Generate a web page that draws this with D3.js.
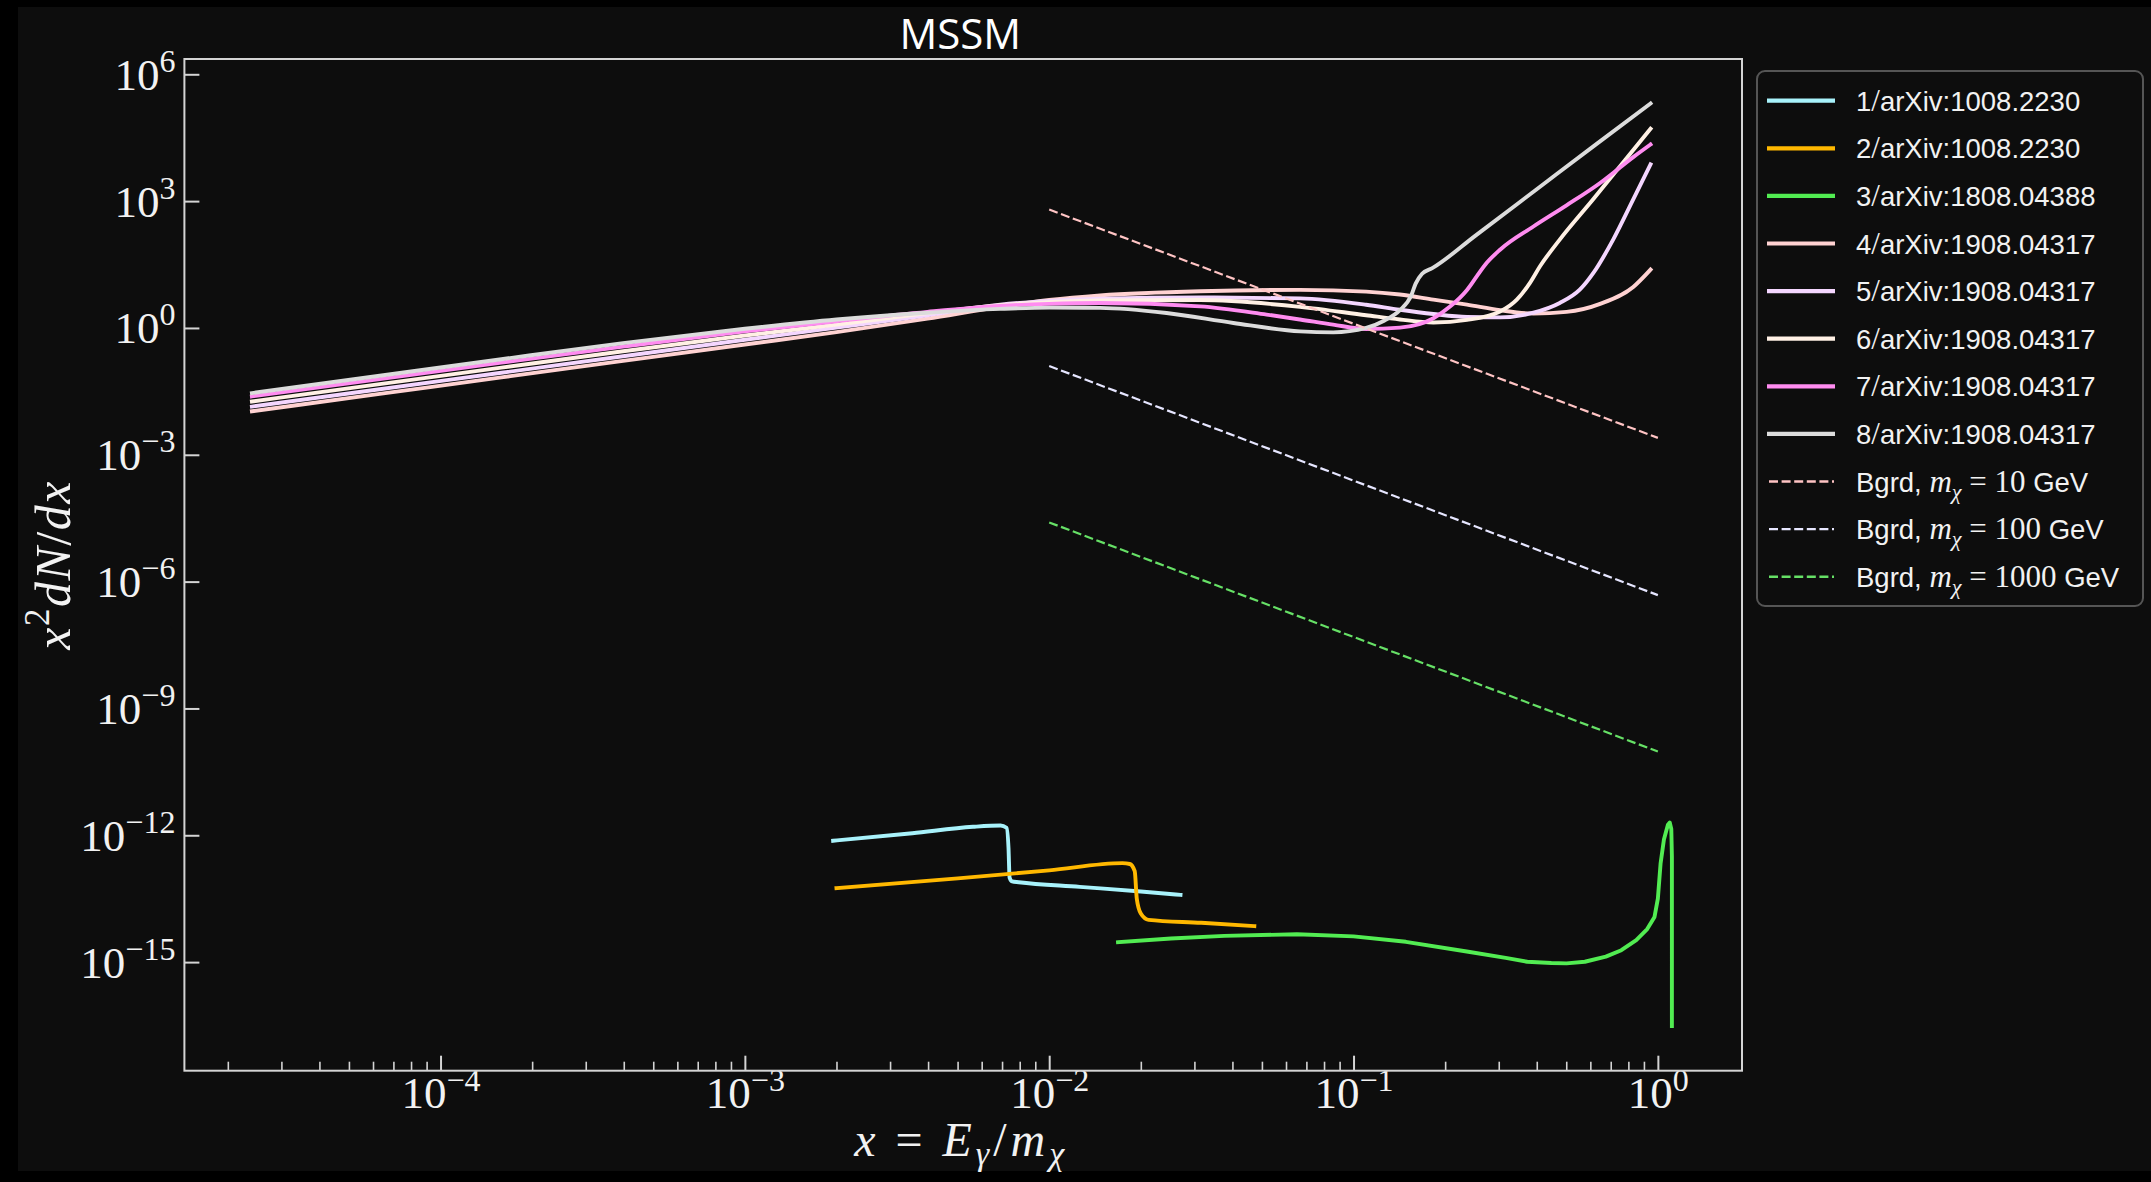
<!DOCTYPE html>
<html><head><meta charset="utf-8">
<script src="https://cdn.jsdelivr.net/npm/d3@7"></script>
<style>html,body{margin:0;padding:0;background:#000;} svg{display:block;}</style>
</head><body><svg id="c" width="2151" height="1182"></svg>
<script>
// ---------------- data ----------------
const xDomain = [1.44e-5, 1.89];
const yDomain = [2.7e-18, 2.3e6];
const yTickValues = [1e-15, 1e-12, 1e-9, 1e-6, 1e-3, 1, 1e3, 1e6];
const yTickExps = ["−15", "−12", "−9", "−6", "−3", "0", "3", "6"];
const xTickValues = [1e-4, 1e-3, 1e-2, 1e-1, 1];
const xTickExps = ["−4", "−3", "−2", "−1", "0"];
const titleText = "MSSM";
const seriesLabels = ["1/arXiv:1008.2230", "2/arXiv:1008.2230", "3/arXiv:1808.04388",
  "4/arXiv:1908.04317", "5/arXiv:1908.04317", "6/arXiv:1908.04317", "7/arXiv:1908.04317", "8/arXiv:1908.04317"];
const bgrdMasses = ["10", "100", "1000"];

const series1 = [[1.95e-3,7.41e-13],[3.55e-3,1.12e-12],[5.62e-3,1.585e-12],[6.92e-3,1.70e-12],[7.24e-3,1.51e-12],
  [7.35e-3,5.0e-13],[7.41e-3,1.0e-13],[7.55e-3,8.13e-14],[7.94e-3,7.76e-14],[0.0126,6.03e-14],[0.0200,4.68e-14],[0.0270,3.89e-14]];
const series2 = [[2.0e-3,5.62e-14],[5.01e-3,9.55e-14],[0.01,1.48e-13],[0.0174,2.19e-13],[0.0184,2.09e-13],[0.0191,1.41e-13],
  [0.0194,3.16e-14],[0.0200,1.41e-14],[0.0212,1.0e-14],[0.0316,8.51e-15],[0.0472,7.08e-15]];
const series3 = [[0.01683,2.95e-15],[0.02512,3.63e-15],[0.03758,4.17e-15],[0.06516,4.57e-15],[0.1,4.07e-15],[0.1486,3.02e-15],
  [0.2355,1.78e-15],[0.3162,1.26e-15],[0.3724,1.02e-15],[0.4467,9.55e-16],[0.5012,9.33e-16],[0.5754,1.02e-15],[0.6745,1.35e-15],
  [0.7586,1.91e-15],[0.8492,3.31e-15],[0.9226,6.03e-15],[0.975,1.17e-14],[1.0,3.16e-14],[1.021,2.19e-13],[1.047,7.94e-13],
  [1.079,1.78e-12],[1.094,2.0e-12],[1.107,1.41e-12],[1.112,3.16e-13],[1.112,1.0e-14],[1.112,3.09e-17]];
const series4 = [[2.40e-5,0.0107],[6.31e-5,0.0275],[1.585e-4,0.0676],[3.98e-4,0.166],[1e-3,0.407],[2.0e-3,0.794],[3.98e-3,1.66],
  [6.9e-3,3.16],[0.01,4.57],[0.0147,5.89],[0.0313,7.41],[0.0667,7.94],[0.110,7.24],[0.142,6.17],[0.183,4.68],[0.236,3.55],
  [0.303,2.63],[0.390,2.19],[0.501,2.40],[0.646,3.72],[0.830,9.33],[0.946,24.0]];
const series5 = [[2.40e-5,0.0138],[6.31e-5,0.0355],[1.585e-4,0.0871],[3.98e-4,0.214],[1e-3,0.525],[2.0e-3,1.02],[3.98e-3,2.0],
  [6.9e-3,3.55],[0.01,4.37],[0.0147,4.90],[0.0313,5.25],[0.0667,5.01],[0.110,3.55],[0.142,2.69],[0.183,2.14],[0.236,1.82],
  [0.303,1.78],[0.390,2.29],[0.476,3.89],[0.555,8.13],[0.614,20.0],[0.713,123],[0.830,1100],[0.946,7410]];
const series6 = [[2.40e-5,0.0182],[6.31e-5,0.0468],[1.585e-4,0.115],[3.98e-4,0.282],[1e-3,0.661],[2.0e-3,1.20],[3.98e-3,2.24],
  [6.9e-3,3.47],[0.01,4.07],[0.0147,4.47],[0.0313,4.57],[0.0667,3.16],[0.110,2.0],[0.142,1.585],[0.183,1.35],[0.236,1.55],
  [0.303,2.45],[0.344,4.68],[0.380,11.7],[0.410,28.8],[0.476,123],[0.614,1120],[0.776,8910],[0.946,51300]];
const series7 = [[2.40e-5,0.0240],[6.31e-5,0.0617],[1.585e-4,0.151],[3.98e-4,0.363],[1e-3,0.832],[2.0e-3,1.445],[3.98e-3,2.40],
  [6.9e-3,3.31],[0.01,3.72],[0.0147,3.89],[0.0313,3.24],[0.0518,2.07],[0.0667,1.585],[0.0857,1.20],[0.110,0.946],[0.142,1.02],
  [0.183,1.70],[0.207,3.16],[0.236,7.94],[0.254,16.6],[0.274,34.7],[0.303,70.8],[0.390,251],[0.501,794],[0.646,2690],
  [0.830,11000],[0.946,21900]];
const series8 = [[2.40e-5,0.0288],[6.31e-5,0.0741],[1.585e-4,0.182],[3.98e-4,0.437],[1e-3,0.955],[2.0e-3,1.585],[3.98e-3,2.29],
  [6.9e-3,2.82],[0.01,3.02],[0.0147,2.99],[0.0243,2.26],[0.0403,1.31],[0.0667,0.832],[0.0857,0.787],[0.110,1.0],[0.126,1.48],
  [0.142,2.63],[0.155,6.03],[0.160,11.2],[0.168,19.1],[0.182,26.3],[0.251,151],[0.398,1860],[0.631,22900],[0.946,204000]];
const bgrd10 = [[0.01,631],[0.1,1.26],[1.0,2.51e-3]];
const bgrd100 = [[0.01,0.126],[0.1,2.45e-4],[1.0,4.79e-7]];
const bgrd1000 = [[0.01,2.51e-5],[0.1,4.90e-8],[1.0,9.55e-11]];

const seriesData = [series1, series2, series3, series4, series5, series6, series7, series8];
const seriesColors = ["#a8f2fb", "#ffb800", "#52ec52", "#ffd2d2", "#f4d6ff", "#fff0e4", "#ff8cf0", "#dcdcdc"];
const bgrdData = [bgrd10, bgrd100, bgrd1000];
const bgrdColors = ["#ffc4c4", "#e6e6ff", "#66e066"];

// ---------------- layout ----------------
const W = 2151, H = 1182;
const L = 184.4, R = 1742, T = 59, B = 1070.7;
const fg = "#f2f2f2", spine = "#d4d4d4";
const serif = "'Liberation Serif', 'DejaVu Serif', serif";
const sans = "'Liberation Sans', Arial, sans-serif";

const svg = d3.select("#c");
svg.append("rect").attr("x", 0).attr("y", 0).attr("width", W).attr("height", H).attr("fill", "#000");
svg.append("rect").attr("x", 18).attr("y", 7).attr("width", W - 18).attr("height", 1164).attr("fill", "#0d0d0d");

const x = d3.scaleLog().domain(xDomain).range([L, R]);
const y = d3.scaleLog().domain(yDomain).range([B, T]);

// title
svg.append("text").attr("x", (L + R) / 2 - 3).attr("y", 49).attr("text-anchor", "middle")
  .attr("font-family", "'Open Sans', 'DejaVu Sans', sans-serif").attr("font-size", 42).attr("fill", "#fff").text(titleText);

// clip
svg.append("clipPath").attr("id", "clip").append("rect").attr("x", L).attr("y", T).attr("width", R - L).attr("height", B - T);
const plot = svg.append("g").attr("clip-path", "url(#clip)");

const lineMono = d3.line().x(d => x(d[0])).y(d => y(d[1])).curve(d3.curveMonotoneX);
const lineLin = d3.line().x(d => x(d[0])).y(d => y(d[1]));

seriesData.forEach((s, i) => {
  plot.append("path").datum(s).attr("d", i === 2 ? lineLin : lineMono)
    .attr("fill", "none").attr("stroke", seriesColors[i]).attr("stroke-width", 3.9)
    .attr("stroke-linejoin", "round").attr("stroke-linecap", "square");
});
bgrdData.forEach((s, i) => {
  plot.append("path").datum(s).attr("d", lineLin)
    .attr("fill", "none").attr("stroke", bgrdColors[i]).attr("stroke-width", 2.2)
    .attr("stroke-dasharray", "9,3.6");
});

// axes
const gy = svg.append("g").attr("transform", `translate(${L},0)`)
  .call(d3.axisLeft(y).tickValues(yTickValues).tickSizeInner(-15).tickSizeOuter(0).tickPadding(9).tickFormat(() => ""));
gy.select(".domain").remove();
gy.selectAll(".tick line").attr("stroke", spine).attr("stroke-width", 2);
gy.selectAll(".tick text").each(function (d, i) {
  const t = d3.select(this).text(null).attr("font-family", serif).attr("font-size", 45).attr("fill", fg).attr("dy", 15);
  t.append("tspan").text("10");
  t.append("tspan").attr("font-size", 32).attr("dy", -18).text(yTickExps[i]);
});

const gx = svg.append("g").attr("transform", `translate(0,${B})`)
  .call(d3.axisBottom(x).tickValues(xTickValues).tickSizeInner(-15).tickSizeOuter(0).tickPadding(0).tickFormat(() => ""));
gx.select(".domain").remove();
gx.selectAll(".tick line").attr("stroke", spine).attr("stroke-width", 2);
gx.selectAll(".tick text").each(function (d, i) {
  const t = d3.select(this).text(null).attr("font-family", serif).attr("font-size", 45).attr("fill", fg).attr("y", 37).attr("dy", 0);
  t.append("tspan").text("10");
  t.append("tspan").attr("font-size", 32).attr("dy", -17).text(xTickExps[i]);
});
const minorX = x.ticks().filter(v => Math.abs(Math.log10(v) - Math.round(Math.log10(v))) > 1e-6);
const gxm = svg.append("g").attr("transform", `translate(0,${B})`)
  .call(d3.axisBottom(x).tickValues(minorX).tickSizeInner(-9).tickSizeOuter(0).tickFormat(() => ""));
gxm.select(".domain").remove();
gxm.selectAll(".tick line").attr("stroke", spine).attr("stroke-width", 1.6);

// spines
svg.append("rect").attr("x", L).attr("y", T).attr("width", R - L).attr("height", B - T)
  .attr("fill", "none").attr("stroke", spine).attr("stroke-width", 2);

// axis labels
const yl = svg.append("text").attr("transform", `translate(70,${(T + B) / 2}) rotate(-90)`).attr("text-anchor", "middle")
  .attr("font-family", serif).attr("font-size", 50).attr("letter-spacing", 1.5).attr("fill", fg);
yl.append("tspan").attr("font-style", "italic").text("x");
yl.append("tspan").attr("font-size", 35).attr("dy", -21).text("2");
yl.append("tspan").attr("font-style", "italic").attr("dy", 21).text("dN");
yl.append("tspan").text("/");
yl.append("tspan").attr("font-style", "italic").text("dx");

const xl = svg.append("text").attr("x", (L + R) / 2 - 2).attr("y", 1156).attr("text-anchor", "middle")
  .attr("font-family", serif).attr("font-size", 48).attr("letter-spacing", 4).attr("fill", fg);
xl.append("tspan").attr("font-style", "italic").text("x");
xl.append("tspan").text(" = ");
xl.append("tspan").attr("font-style", "italic").text("E");
xl.append("tspan").attr("font-style", "italic").attr("font-size", 34).attr("dy", 9).text("γ");
xl.append("tspan").attr("dy", -9).text("/");
xl.append("tspan").attr("font-style", "italic").text("m");
xl.append("tspan").attr("font-style", "italic").attr("font-size", 34).attr("dy", 9).text("χ");

// legend
const lg = svg.append("g");
lg.append("rect").attr("x", 1757).attr("y", 71).attr("width", 386).attr("height", 535).attr("rx", 8)
  .attr("fill", "#0d0d0d").attr("stroke", "#555").attr("stroke-width", 2);
const rowY = i => 100.7 + i * 47.6;
seriesLabels.forEach((lab, i) => {
  const yy = rowY(i);
  lg.append("line").attr("x1", 1767).attr("x2", 1835).attr("y1", yy).attr("y2", yy)
    .attr("stroke", seriesColors[i]).attr("stroke-width", 4.2);
  const parts = lab.split("/");
  const t = lg.append("text").attr("x", 1856).attr("y", yy + 10).attr("font-family", sans).attr("font-size", 27.5).attr("fill", fg);
  t.append("tspan").text(parts[0]);
  t.append("tspan").attr("font-family", serif).attr("font-size", 31).text("/");
  t.append("tspan").text(parts[1]);
});
bgrdMasses.forEach((m, j) => {
  const yy = rowY(8 + j);
  lg.append("line").attr("x1", 1769).attr("x2", 1834).attr("y1", yy).attr("y2", yy)
    .attr("stroke", bgrdColors[j]).attr("stroke-width", 2.4).attr("stroke-dasharray", "9,3.6");
  const t = lg.append("text").attr("x", 1856).attr("y", yy + 10).attr("font-family", sans).attr("font-size", 27.5).attr("fill", fg);
  t.append("tspan").text("Bgrd, ");
  t.append("tspan").attr("font-family", serif).attr("font-style", "italic").attr("font-size", 31).text("m");
  t.append("tspan").attr("font-family", serif).attr("font-style", "italic").attr("font-size", 22).attr("dy", 7).text("χ");
  t.append("tspan").attr("font-family", serif).attr("font-size", 31).attr("dy", -7).text(" = " + m + " ");
  t.append("tspan").text("GeV");
});
</script>
</body></html>
